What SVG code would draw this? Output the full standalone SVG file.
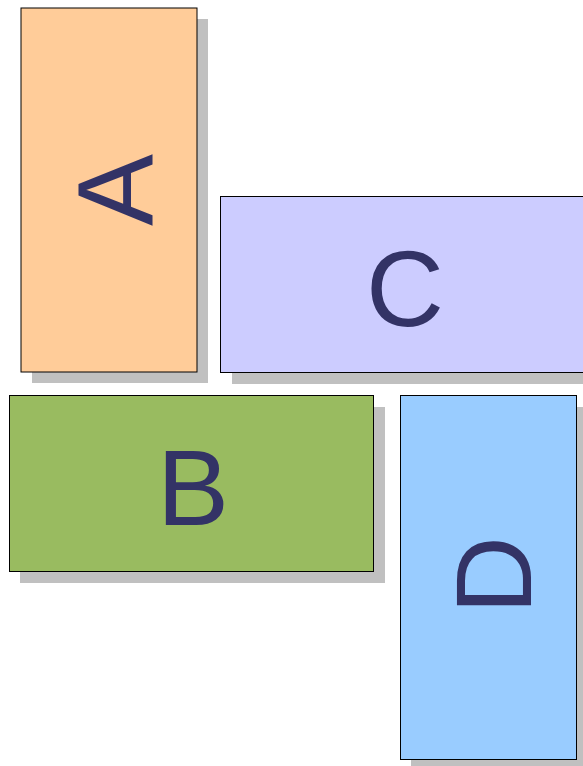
<svg xmlns="http://www.w3.org/2000/svg" width="583" height="766" viewBox="0 0 583 766">
<style>
.sh{fill:#c0c0c0}
.box{stroke:#000;stroke-width:1}
.lbl{font-family:"Liberation Sans",Arial,sans-serif;font-size:108px;fill:#333366;text-anchor:middle;dominant-baseline:central}
</style>
<rect width="583" height="766" fill="#fff"/>
<g id="connectors"/>
<g id="A">
<rect class="sh" x="32" y="19" width="176" height="364"/>
<rect class="box" x="21" y="8" width="176" height="364" fill="#ffcc99"/>
<text class="lbl" x="115" y="190" transform="rotate(-90 115 190)">A</text>
</g>
<g id="C">
<rect class="sh" x="232" y="208" width="364" height="176"/>
<rect class="box" x="220.5" y="196.5" width="364" height="176" fill="#ccccff"/>
<text class="lbl" x="405" y="288">C</text>
</g>
<g id="B">
<rect class="sh" x="20" y="407" width="365" height="176"/>
<rect class="box" x="9.5" y="395.5" width="364" height="176" fill="#99bb60"/>
<text class="lbl" x="193" y="487">B</text>
</g>
<g id="D">
<rect class="sh" x="411" y="407" width="176" height="364"/>
<rect class="box" x="400.5" y="395.5" width="176" height="364" fill="#99ccff"/>
<text class="lbl" x="493" y="575" transform="rotate(-90 493 575)">D</text>
</g>
</svg>
